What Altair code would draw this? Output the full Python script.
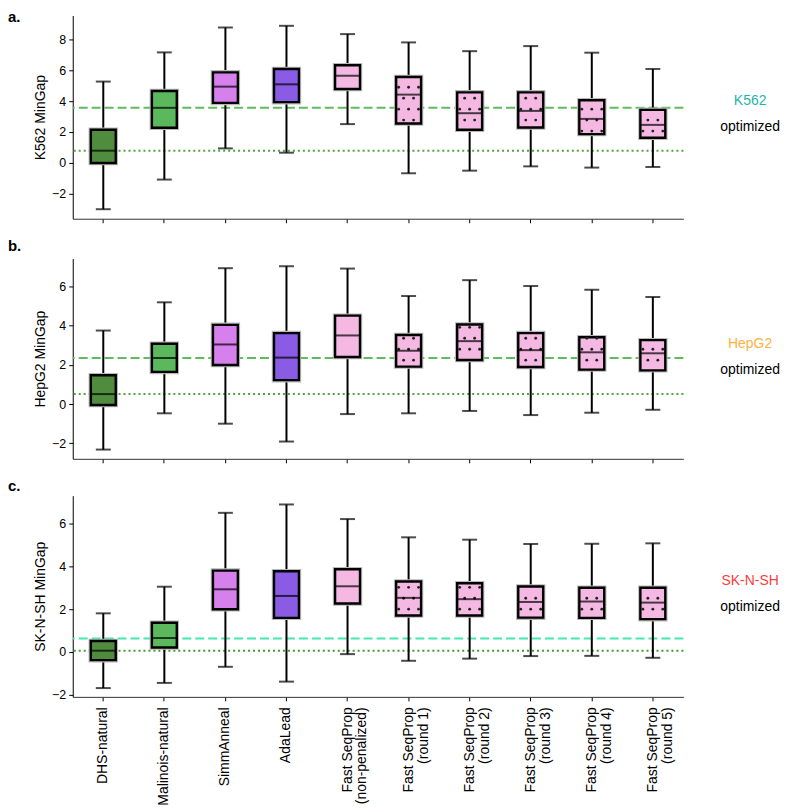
import math
import altair as alt
import pandas as pd

# ---------------- data ----------------
categories = [
    "DHS-natural", "Malinois-natural", "SimmAnneal", "AdaLead",
    "Fast SeqProp\n(non-penalized)", "Fast SeqProp\n(round 1)",
    "Fast SeqProp\n(round 2)", "Fast SeqProp\n(round 3)",
    "Fast SeqProp\n(round 4)", "Fast SeqProp\n(round 5)",
]
box_colors = ["#4f8c3e", "#5cb85c", "#d580ec", "#8a5ce6", "#f4b8e2",
              "#f4b8e2", "#f4b8e2", "#f4b8e2", "#f4b8e2", "#f4b8e2"]
hatched = [False, False, False, False, False, True, True, True, True, True]

# K562 (panel a)
k562_low = [-3.03, -1.10, 0.93, 0.65, 2.51, -0.69, -0.52, -0.24, -0.32, -0.28]
k562_q1 = [-0.02, 2.27, 3.89, 3.94, 4.80, 2.55, 2.14, 2.29, 1.86, 1.62]
k562_med = [0.78, 3.57, 4.95, 5.10, 5.66, 4.43, 3.22, 3.37, 2.85, 2.46]
k562_q3 = [2.14, 4.67, 5.88, 6.10, 6.34, 5.58, 4.58, 4.58, 4.06, 3.44]
k562_high = [5.28, 7.18, 8.80, 8.91, 8.37, 7.83, 7.26, 7.59, 7.16, 6.10]
k562_ref = [3.57, 0.78]  # dashed (Malinois median), dotted (DHS median)

# HepG2 (panel b)
hepg2_low = [-2.32, -0.47, -1.00, -1.91, -0.51, -0.47, -0.35, -0.56, -0.44, -0.29]
hepg2_q1 = [-0.05, 1.64, 1.99, 1.22, 2.40, 1.91, 2.25, 1.89, 1.76, 1.72]
hepg2_med = [0.51, 2.35, 3.04, 2.37, 3.50, 2.72, 3.21, 2.75, 2.64, 2.59]
hepg2_q3 = [1.47, 3.08, 4.04, 3.62, 4.51, 3.52, 4.06, 3.62, 3.41, 3.26]
hepg2_high = [3.75, 5.19, 6.93, 7.03, 6.91, 5.51, 6.32, 6.02, 5.83, 5.46]
hepg2_ref = [2.35, 0.51]

# SK-N-SH (panel c)
sknsh_low = [-1.68, -1.44, -0.69, -1.38, -0.10, -0.41, -0.31, -0.19, -0.18, -0.27]
sknsh_q1 = [-0.38, 0.21, 1.99, 1.59, 2.26, 1.70, 1.70, 1.60, 1.59, 1.53]
sknsh_med = [0.06, 0.65, 2.92, 2.61, 3.06, 2.52, 2.46, 2.33, 2.35, 2.30]
sknsh_q3 = [0.51, 1.36, 3.79, 3.76, 3.85, 3.28, 3.20, 3.05, 2.99, 2.99]
sknsh_high = [1.80, 3.04, 6.48, 6.87, 6.19, 5.34, 5.23, 5.03, 5.04, 5.06]
sknsh_ref = [0.63, 0.06]

FONT = "Liberation Sans"
W = 613
STEP = W / len(categories)


def panel(letter, cell, cell_color, ylabel, low, q1, med, q3, high, ref,
          dash_color, dot_color, domain, height, yvals, show_labels, letter_y):
    df = pd.DataFrame({"cat": categories, "low": low, "q1": q1, "med": med,
                       "q3": q3, "high": high, "color": box_colors})
    yscale = alt.Scale(domain=domain, nice=False, zero=False)
    xaxis = alt.Axis(
        title=None, labels=show_labels, labelAngle=-90, labelAlign="right",
        labelBaseline="middle", labelExpr="split(datum.label, '\\n')",
        labelFontSize=14, labelLineHeight=15, labelPadding=6, labelOverlap=False,
        labelColor="black", labelFont=FONT, tickSize=4, tickColor="black",
        tickWidth=1, domainColor="#333", domainWidth=1, grid=False,
    )
    yaxis = alt.Axis(
        title=ylabel, values=yvals, grid=False, tickSize=4,
        tickColor="black", domainColor="black", labelFontSize=12.5,
        labelColor="black", labelFont=FONT, titleFont=FONT,
        titleFontSize=14, titleFontWeight="normal", titleColor="black",
        titlePadding=4, labelPadding=3)
    xscale = alt.Scale(paddingInner=0, paddingOuter=0)
    x = alt.X("cat:N", sort=categories, scale=xscale, axis=xaxis)
    xn = alt.X("cat:N", sort=categories, scale=xscale)
    base = alt.Chart(df)

    # hatch dots (staggered grid, global rows)
    ppu = height / (domain[1] - domain[0])
    step = 11.0 / ppu
    marg = 1.0 / ppu
    rows = []
    for i, c in enumerate(categories):
        if not hatched[i]:
            continue
        k0 = math.ceil((q1[i] + marg - domain[0]) / step)
        k1 = math.floor((q3[i] - marg - domain[0]) / step)
        for k in range(k0, k1 + 1):
            cols = [0, 2, 4] if k % 2 == 0 else [1, 3]
            for col in cols:
                rows.append({"cat": c, "y": domain[0] + k * step, "col": col})
    dots_df = pd.DataFrame(rows)

    ref_df = pd.DataFrame({"v": [ref[0]]})
    ref2_df = pd.DataFrame({"v": [ref[1]]})

    layers = [
        alt.Chart(ref_df).mark_rule(strokeDash=[9, 4], strokeWidth=2, color=dash_color)
        .encode(y=alt.Y("v:Q", scale=yscale, axis=yaxis)),
        alt.Chart(ref2_df).mark_rule(strokeDash=[2, 3], strokeWidth=2, color=dot_color)
        .encode(y=alt.Y("v:Q", scale=yscale)),
        base.mark_rule(color="black", strokeWidth=2).encode(
            x=x, y=alt.Y("low:Q", scale=yscale), y2="high:Q"),
        base.mark_tick(color="black", size=15, thickness=2).encode(
            x=xn, y=alt.Y("low:Q", scale=yscale)),
        base.mark_tick(color="black", size=15, thickness=2).encode(
            x=xn, y=alt.Y("high:Q", scale=yscale)),
        base.mark_bar(size=25, stroke="#b8b8b8", strokeWidth=4.5).encode(
            x=xn, y=alt.Y("q1:Q", scale=yscale), y2="q3:Q",
            fill=alt.Fill("color:N", scale=None)),
        base.mark_bar(size=25, stroke="black", strokeWidth=2.4).encode(
            x=xn, y=alt.Y("q1:Q", scale=yscale), y2="q3:Q",
            fill=alt.Fill("color:N", scale=None)),
        alt.Chart(dots_df).mark_circle(size=8, color="#222222", opacity=1)
        .encode(x=xn, y=alt.Y("y:Q", scale=yscale),
                xOffset=alt.XOffset("col:O", scale=alt.Scale(
                    type="point", domain=[0, 1, 2, 3, 4],
                    range=[STEP / 2 - 10, STEP / 2 + 10], padding=0))),
        base.mark_tick(color="black", size=25, thickness=2).encode(
            x=xn, y=alt.Y("med:Q", scale=yscale)),
        alt.Chart(pd.DataFrame({"t": [letter]})).mark_text(
            font=FONT, fontSize=15, fontWeight="bold", align="left",
            baseline="alphabetic", color="black")
        .encode(text="t:N", x=alt.value(-65), y=alt.value(letter_y)),
        alt.Chart(pd.DataFrame({"t": [cell]})).mark_text(
            font=FONT, fontSize=14, align="center", baseline="middle",
            color=cell_color)
        .encode(text="t:N", x=alt.value(680), y=alt.value(86)),
        alt.Chart(pd.DataFrame({"t": ["optimized"]})).mark_text(
            font=FONT, fontSize=14, align="center", baseline="middle",
            color="black")
        .encode(text="t:N", x=alt.value(680), y=alt.value(112)),
    ]
    return alt.layer(*layers).properties(width=W, height=height)


pa = panel("a.", "K562", "#1fb5a8", "K562 MinGap", k562_low, k562_q1, k562_med,
           k562_q3, k562_high, k562_ref, "#5dbd5d", "#4fa43f",
           [-3.65, 9.58], 204, [-2, 0, 2, 4, 6, 8], False, 6)
pb = panel("b.", "HepG2", "#ffb040", "HepG2 MinGap", hepg2_low, hepg2_q1, hepg2_med,
           hepg2_q3, hepg2_high, hepg2_ref, "#5dbd5d", "#4fa43f",
           [-2.79, 7.42], 201, [-2, 0, 2, 4, 6], False, -8)
pc = panel("c.", "SK-N-SH", "#ff3b3b", "SK-N-SH MinGap", sknsh_low, sknsh_q1, sknsh_med,
           sknsh_q3, sknsh_high, sknsh_ref, "#45e8b2", "#3f9a30",
           [-2.09, 7.28], 202, [-2, 0, 2, 4, 6], True, -5)

chart = alt.vconcat(pa, pb, pc, spacing=15).properties(
    padding={"left": 0, "top": 0, "right": 0, "bottom": 0}
).configure(font=FONT).configure_view(stroke=None)

chart.save("out.html", embed_options={"renderer": "svg", "actions": False})
